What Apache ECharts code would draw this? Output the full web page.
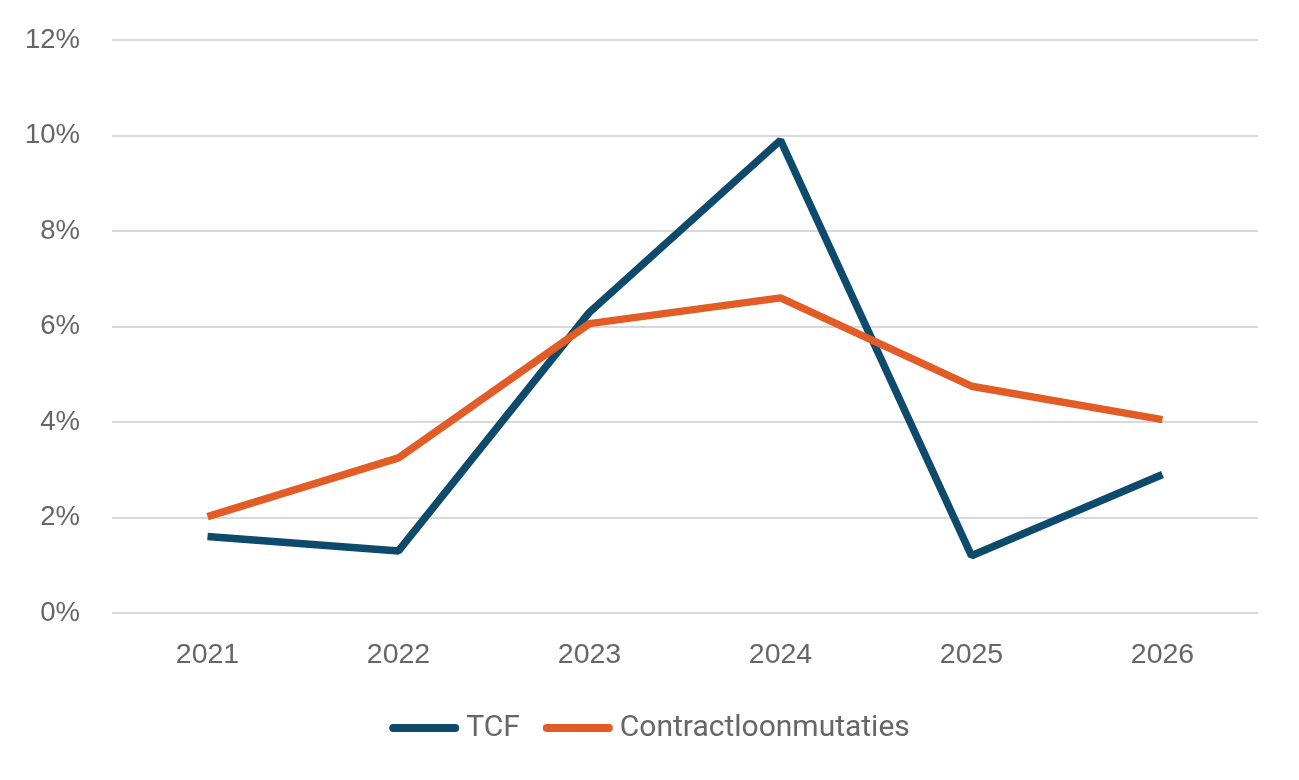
<!DOCTYPE html>
<html>
<head>
<meta charset="utf-8">
<script src="https://cdn.jsdelivr.net/npm/echarts@6/dist/echarts.min.js"></script>
<style>
  html, body { margin: 0; padding: 0; background: #fff; }
  #chart { width: 1299px; height: 780px; }
</style>
</head>
<body>
<div id="chart"></div>
<script>
const years = ['2021', '2022', '2023', '2024', '2025', '2026'];
const tcf = [1.6, 1.3, 6.3, 9.9, 1.2, 2.9];
const contractloon = [2.02, 3.25, 6.06, 6.6, 4.75, 4.05];
const yTicks = [0, 2, 4, 6, 8, 10, 12];

const pill = 'path://M4,0 L66,0 A4,4 0 0 1 66,8 L4,8 A4,4 0 0 1 4,0 Z';

echarts.init(document.getElementById('chart')).setOption({
  animation: false,
  grid: { left: 112, right: 41, top: 40, bottom: 167 },
  legend: {
    top: 708,
    left: 'center',
    itemWidth: 70,
    itemHeight: 8,
    itemGap: 23,
    textStyle: { fontFamily: 'Roboto', fontSize: 30, color: '#666', padding: [0, 0, 0, 2] },
    data: [
      { name: 'TCF', icon: pill },
      { name: 'Contractloonmutaties', icon: pill }
    ]
  },
  xAxis: {
    type: 'category',
    data: years,
    boundaryGap: true,
    axisLine: { show: false },
    axisTick: { show: false },
    axisLabel: { margin: 28, fontFamily: 'Liberation Sans', fontSize: 28.5, color: '#666' }
  },
  yAxis: {
    type: 'value',
    min: yTicks[0],
    max: yTicks[yTicks.length - 1],
    interval: 2,
    axisLine: { show: false },
    axisTick: { show: false },
    splitLine: { lineStyle: { color: '#d9d9d9', width: 2 } },
    axisLabel: { margin: 32, fontFamily: 'Liberation Sans', fontSize: 27.5, color: '#666', formatter: v => v + '%' }
  },
  series: [
    {
      name: 'TCF',
      type: 'line',
      data: tcf,
      symbol: 'none',
      itemStyle: { color: '#0e4a6b' },
      lineStyle: { color: '#0e4a6b', width: 7.5 }
    },
    {
      name: 'Contractloonmutaties',
      type: 'line',
      data: contractloon,
      symbol: 'none',
      itemStyle: { color: '#e35c26' },
      lineStyle: { color: '#e35c26', width: 7.5 }
    }
  ]
});
</script>
</body>
</html>
